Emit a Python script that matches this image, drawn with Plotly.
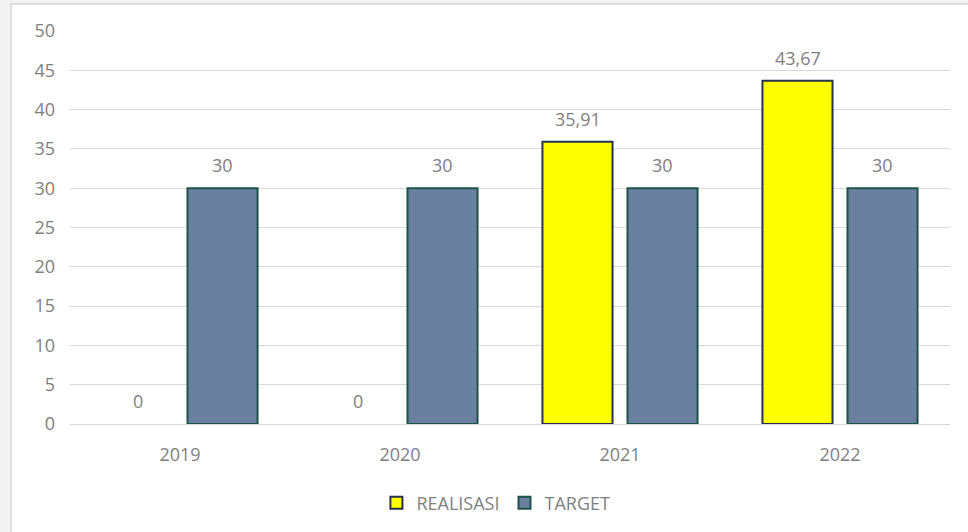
import plotly.graph_objects as go

years = ["2019", "2020", "2021", "2022"]
realisasi = [0, 0, 35.91, 43.67]
target = [30, 30, 30, 30]
realisasi_labels = ["0", "0", "35,91", "43,67"]
target_labels = ["30", "30", "30", "30"]

FONT = "Open Sans"
GREY = "#7f7f7f"

R_MARKER = dict(color="#FFFF00", line=dict(color="#26324f", width=2))
T_MARKER = dict(color="#6b7f9e", line=dict(color="#1f5249", width=2))

fig = go.Figure()
fig.add_trace(go.Bar(
    name="REALISASI", x=years, y=realisasi, offsetgroup="r", showlegend=False,
    marker=dict(color="#FFFF00",
                line=dict(color="#26324f", width=[0 if v == 0 else 2 for v in realisasi])),
))
fig.add_trace(go.Bar(
    name="TARGET", x=years, y=target, offsetgroup="t", showlegend=False,
    marker=dict(color="#6b7f9e",
                line=dict(color="#1f5249", width=[0 if v == 0 else 2 for v in target])),
))
# legend entries
fig.add_trace(go.Bar(name="REALISASI", x=[None], y=[None], offsetgroup="r", marker=R_MARKER))
fig.add_trace(go.Bar(name="TARGET", x=[None], y=[None], offsetgroup="t", marker=T_MARKER))

annotations = []
for i, yr in enumerate(years):
    annotations.append(dict(x=i, y=realisasi[i], xref="x", yref="y", text=realisasi_labels[i],
                            showarrow=False, xshift=-42.5, yshift=23, yanchor="middle",
                            font=dict(family=FONT, size=18, color=GREY)))
    annotations.append(dict(x=i, y=target[i], xref="x", yref="y", text=target_labels[i],
                            showarrow=False, xshift=42.5, yshift=23, yanchor="middle",
                            font=dict(family=FONT, size=18, color=GREY)))

fig.update_layout(
    width=968, height=532,
    margin=dict(l=70, r=18, t=31, b=107),
    paper_bgcolor="#f3f3f3",
    plot_bgcolor="rgba(0,0,0,0)",
    barmode="group",
    bargap=0.227,
    bargroupgap=0.176,
    font=dict(family=FONT, size=18, color=GREY),
    showlegend=True,
    legend=dict(orientation="h", x=0.484, xanchor="center", y=-0.198, yanchor="middle",
                font=dict(family=FONT, size=18, color=GREY), bgcolor="rgba(0,0,0,0)",
                itemwidth=30, traceorder="normal"),
    annotations=annotations,
    shapes=[dict(type="rect", xref="paper", yref="paper", x0=-0.067, x1=1.2, y0=-0.5, y1=1.0685,
                 fillcolor="white", line=dict(color="#d4d4d4", width=1.5), layer="below")],
)
fig.update_xaxes(type="category", categoryorder="array", categoryarray=years,
                 range=[-0.5, len(years) - 0.5], showgrid=False, showline=False,
                 ticks="", ticklabelstandoff=18, tickfont=dict(family=FONT, size=18, color=GREY))
fig.update_yaxes(range=[0, 50], dtick=5, showgrid=True, gridcolor="#d9d9d9", gridwidth=1,
                 zeroline=True, zerolinecolor="#d9d9d9", zerolinewidth=1, showline=False,
                 ticks="", ticklabelstandoff=14, tickfont=dict(family=FONT, size=18, color=GREY))

fig.write_html("out.html")
